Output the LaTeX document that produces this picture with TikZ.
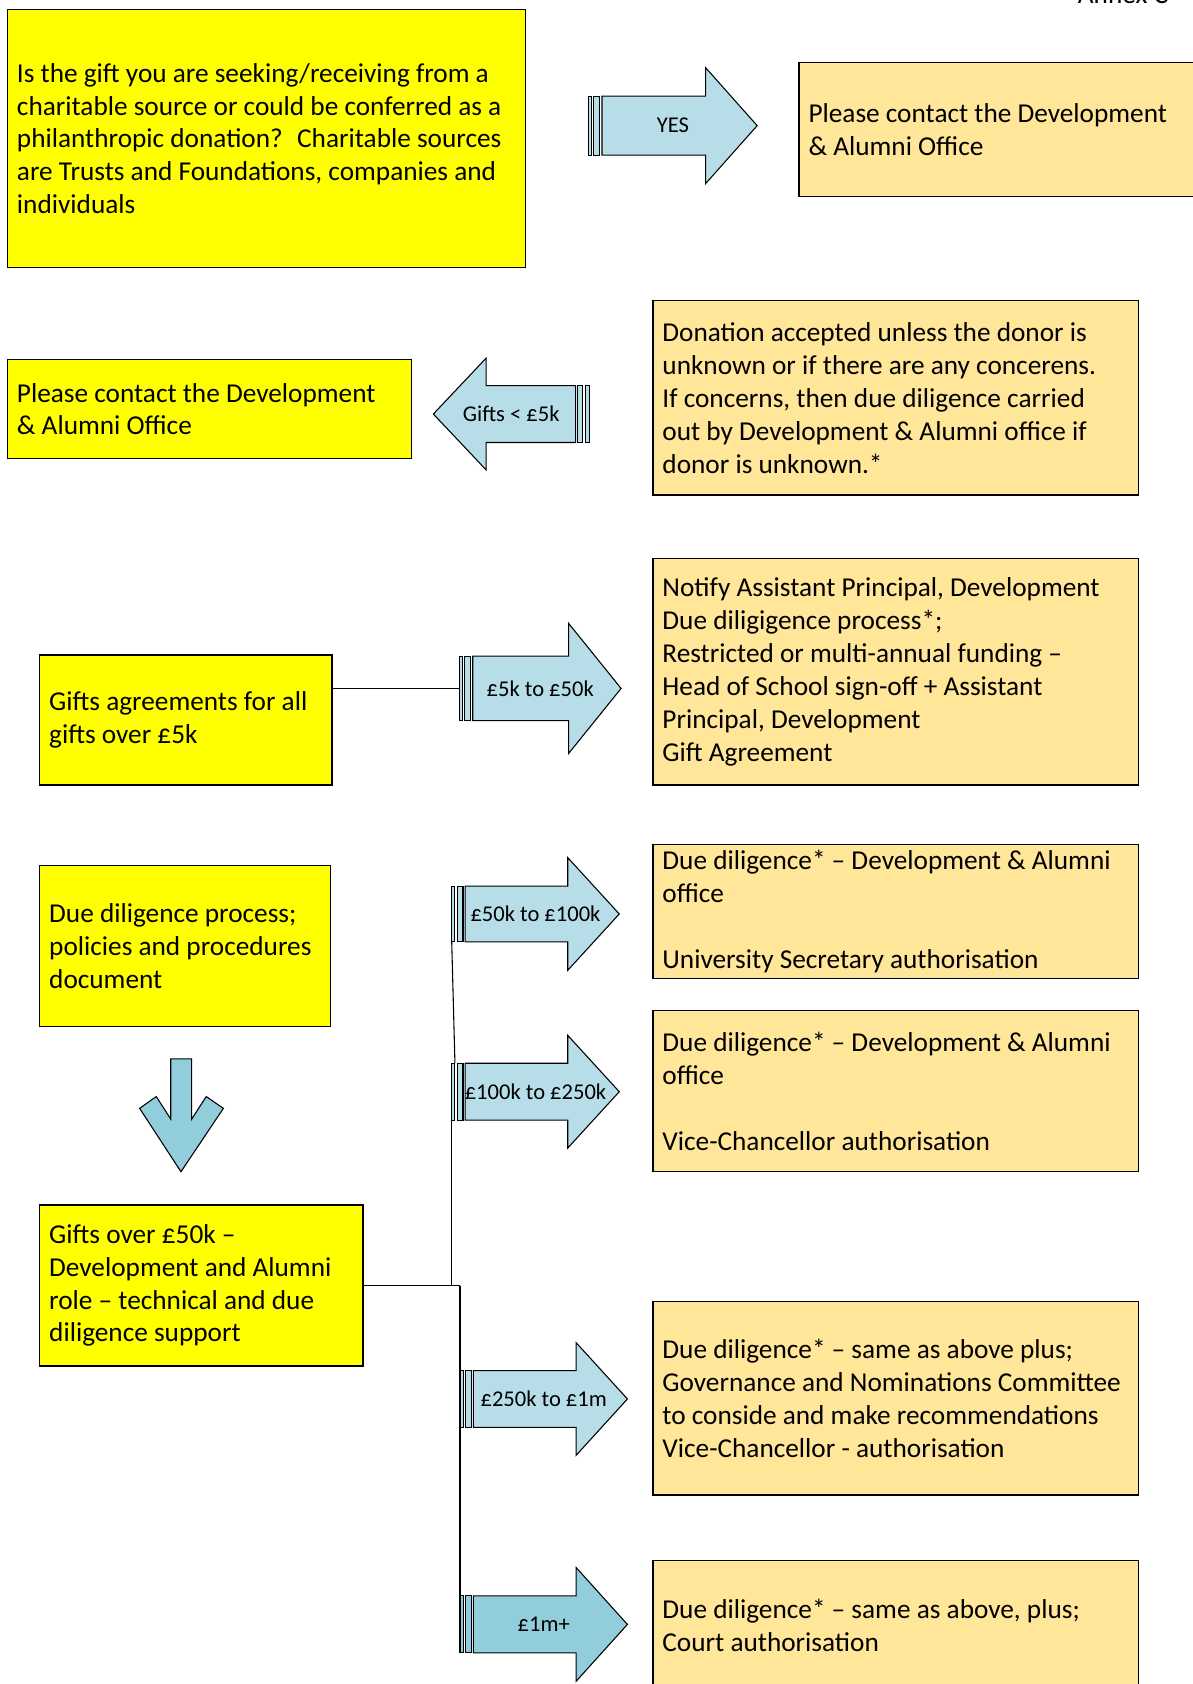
\documentclass[tikz,border=0pt]{standalone}
\usepackage{fontspec}
\setmainfont{Carlito}
\usetikzlibrary{calc}
\definecolor{ybg}{HTML}{FFFF00}
\definecolor{obg}{HTML}{FFE699}
\definecolor{lblue}{HTML}{B7DEE8}
\definecolor{dblue}{HTML}{92CDDC}
\newcommand\boxfont{\fontsize{12.7pt}{15.3pt}\selectfont}
\newcommand\arrfont{\fontsize{10.5pt}{12.6pt}\selectfont}
% #1 name, #2 tail x, #3 head base x, #4 tip x, #5 centre y, #6 half body, #7 half head, #8 fill, #9 label
\newcommand\rarr[9]{%
 \draw[arrline, fill=#8] (#2,{#5-#6}) rectangle ({#2+3},{#5+#6});
 \draw[arrline, fill=#8] ({#2+5},{#5-#6}) rectangle ({#2+10.5},{#5+#6});
 \draw[arrline, fill=#8] ({#2+12.5},{#5-#6}) -- (#3,{#5-#6}) -- (#3,{#5-#7}) -- (#4,#5)
   -- (#3,{#5+#7}) -- (#3,{#5+#6}) -- ({#2+12.5},{#5+#6}) -- cycle;
 \coordinate (#1-tail) at (#2,#5);
 \coordinate (#1-tt) at (#2,{#5-#6});
 \coordinate (#1-tb) at (#2,{#5+#6});
 \node[alabel] (#1) at ({(#2+#4)/2},#5) {#9};
}
\tikzset{
  arrline/.style={draw=black, line width=0.5pt, line join=miter},
  ybox/.style={draw=black, fill=ybg, line width=0.6pt, rectangle, inner sep=0pt},
  obox/.style={draw=black, fill=obg, line width=0.6pt, rectangle, inner sep=0pt},
  btxt/.style={anchor=west, align=left, inner sep=0pt, font=\boxfont},
  alabel/.style={inner sep=0pt, font=\arrfont},
  conn/.style={draw=black, line width=0.5pt},
}
\begin{document}
\begin{tikzpicture}[x=0.5pt, y=-0.5pt]
\useasboundingbox (0,0) rectangle (1110,1568);
\fill[white] (0,0) rectangle (1110,1568);

\node[anchor=base east, inner sep=0pt, font=\boxfont] (annex) at (1088,3.7) {Annex C};

% top row
\node[ybox, minimum width=241pt, minimum height=120pt] (A) at (248,129) {};
\node[btxt] (At) at ($(A.west)+(9,0)$) {Is the gift you are seeking/receiving from a\\charitable source or could be conferred as a\\philanthropic donation?~ Charitable sources\\are Trusts and Foundations, companies and\\individuals};

\rarr{yes}{548}{657}{705}{117}{27.5}{54}{lblue}{YES}

\node[obox, minimum width=185.5pt, minimum height=62.5pt] (B) at (929.5,120.5) {};
\node[btxt] (Bt) at ($(B.west)+(9,0)$) {Please contact the Development\\\& Alumni Office};

% second row
\node[ybox, minimum width=188pt, minimum height=46pt] (C) at (195,381) {};
\node[btxt] (Ct) at ($(C.west)+(9,0)$) {Please contact the Development\\\& Alumni Office};

% left arrow (Gifts < 5k)
\draw[arrline, fill=lblue] (545,359) rectangle (548.5,412);
\draw[arrline, fill=lblue] (537.6,359) rectangle (542.3,412);
\draw[arrline, fill=lblue] (536,359) -- (452.6,359) -- (452.6,333.5) -- (403.5,385.5)
   -- (452.6,437.5) -- (452.6,412) -- (536,412) -- cycle;
\node[alabel] (small) at (476,385.5) {Gifts < £5k};

\node[obox, minimum width=226pt, minimum height=90.5pt] (D) at (834,370.5) {};
\node[btxt] (Dt) at ($(D.west)+(9,0)$) {Donation accepted unless the donor is\\unknown or if there are any concerens.\\If concerns, then due diligence carried\\out by Development \& Alumni office if\\donor is unknown.*};

% third row
\node[ybox, minimum width=136pt, minimum height=60.5pt] (E) at (173,670.5) {};
\node[btxt] (Et) at ($(E.west)+(9,0)$) {Gifts agreements for all\\gifts over £5k};

\rarr{a5}{427.7}{529.5}{578.3}{641}{30}{60.5}{lblue}{£5k to £50k}

\node[obox, minimum width=226pt, minimum height=105.5pt] (F) at (834,625.5) {};
\node[btxt] (Ft) at ($(F.west)+(9,0)$) {Notify Assistant Principal, Development\\Due diligigence process*;\\Restricted or multi-annual funding –\\Head of School sign-off + Assistant\\Principal, Development\\Gift Agreement};

\draw[conn] (E.east |- a5-tail) -- (a5-tail);

% lower left
\node[ybox, minimum width=135.5pt, minimum height=75pt] (G) at (172.5,881) {};
\node[btxt] (Gt) at ($(G.west)+(9,0)$) {Due diligence process;\\policies and procedures\\document};

\draw[arrline, fill=dblue] (159,986) -- (178.5,986) -- (178.5,1042) -- (192,1021) -- (208,1032)
  -- (168.5,1091) -- (130,1032) -- (145.5,1021) -- (159,1042) -- cycle;

\node[ybox, minimum width=150.5pt, minimum height=75pt] (H) at (187.5,1197) {};
\node[btxt] (Ht) at ($(H.west)+(9,0)$) {Gifts over £50k –\\Development and Alumni\\role – technical and due\\diligence support};

% right column arrows
\rarr{a50}{420.6}{528.6}{576.6}{851}{26}{52.5}{lblue}{£50k to £100k}
\rarr{a100}{420.6}{528.6}{576.6}{1016.5}{26.5}{52.5}{lblue}{£100k to £250k}
\rarr{a250}{428.3}{536.4}{584.2}{1302.6}{26.4}{52.5}{lblue}{£250k to £1m}
\rarr{a1m}{428.3}{536.4}{584.2}{1512.5}{26.5}{53}{dblue}{£1m+}

% right column boxes
\node[obox, minimum width=226pt, minimum height=62.5pt] (I) at (834,848.5) {};
\node[btxt] (It) at ($(I.west)+(9,0)$) {Due diligence* – Development \& Alumni\\office\\\mbox{}\\University Secretary authorisation};

\node[obox, minimum width=226pt, minimum height=75pt] (J) at (834,1016) {};
\node[btxt] (Jt) at ($(J.west)+(9,0)$) {Due diligence* – Development \& Alumni\\office\\\mbox{}\\Vice-Chancellor authorisation};

\node[obox, minimum width=226pt, minimum height=90pt] (K) at (834,1302) {};
\node[btxt] (Kt) at ($(K.west)+(9,0)$) {Due diligence* – same as above plus;\\Governance and Nominations Committee\\to conside and make recommendations\\Vice-Chancellor - authorisation};

\node[obox, minimum width=226pt, minimum height=60.5pt] (L) at (834,1513.5) {};
\node[btxt] (Lt) at ($(L.west)+(9,0)$) {Due diligence* – same as above, plus;\\Court authorisation};

% connectors
\coordinate (j1) at (a250-tail |- H.east);
\coordinate (j2) at (a100-tail |- H.east);
\draw[conn] (H.east) -- (j1);
\draw[conn] (j1) -- (a1m-tb);
\draw[conn] (j2) -- (a100-tb);
\draw[conn] (a50-tb) -- ($(a100-tt)+(3,0)$);
\end{tikzpicture}
\end{document}
